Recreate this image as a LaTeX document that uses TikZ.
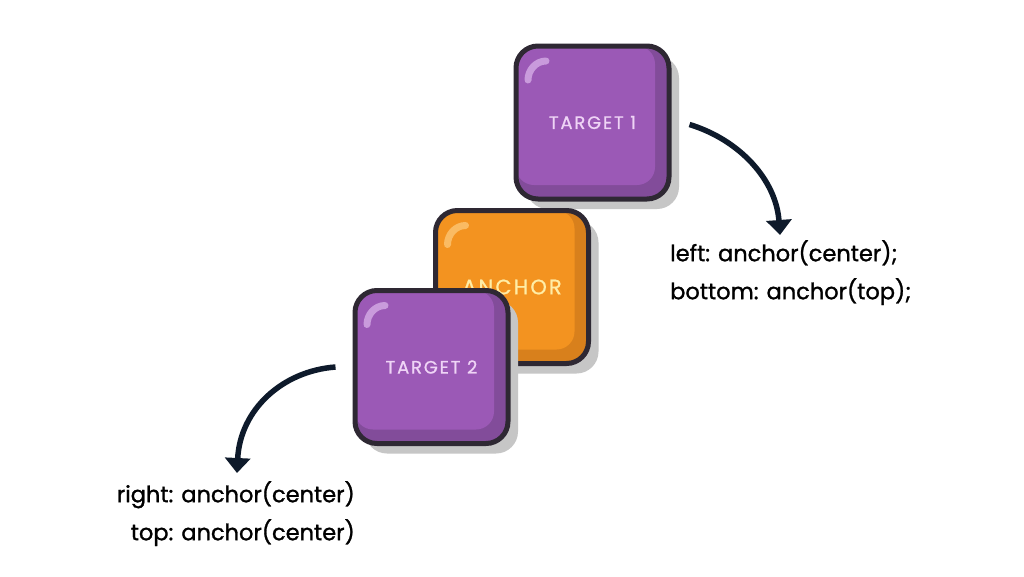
\documentclass[tikz,border=0pt]{standalone}
\usepackage{fontspec}
\setmainfont{Poppins}
\newfontfamily\codefont{Poppins}[FakeBold=1.2]
\newfontfamily\tilefont{Poppins}[LetterSpace=10,FakeBold=0.8]
\usepackage{tikz}
\usetikzlibrary{arrows.meta,shadows}
\definecolor{tileEdge}{HTML}{2E2833}
\definecolor{tileShade}{HTML}{C6C6C6}
\definecolor{plumMain}{HTML}{9B59B6}
\definecolor{plumDark}{HTML}{824C9A}
\definecolor{plumShine}{HTML}{C99BDC}
\definecolor{plumText}{HTML}{EFD4F6}
\definecolor{amberMain}{HTML}{F39320}
\definecolor{amberDark}{HTML}{D8801C}
\definecolor{amberShine}{HTML}{FABB63}
\definecolor{amberText}{HTML}{FFEDA6}
\definecolor{inkNavy}{HTML}{0E1A2B}

\begin{document}
\begin{tikzpicture}[x=1pt,y=-1pt,
  tile/.style={draw=tileEdge,line width=5pt,rounded corners=22pt,minimum size=153pt,inner sep=0pt,
    drop shadow={shadow xshift=10pt,shadow yshift=-10pt,fill=tileShade,opacity=1}},
  tilefill/.style n args={3}{fill=#2,path picture={
    \fill[#1,rounded corners=18pt] (path picture bounding box.north west) rectangle ([xshift=-14pt,yshift=14pt]path picture bounding box.south east);
    \draw[#3,line width=7pt,line cap=round] ([xshift=12pt,yshift=-34pt]path picture bounding box.north west)
      .. controls ([xshift=12pt,yshift=-24pt]path picture bounding box.north west) and ([xshift=20pt,yshift=-15pt]path picture bounding box.north west)
      .. ([xshift=30pt,yshift=-15pt]path picture bounding box.north west);}},
  conn/.style={-{Triangle[width=25pt,length=15pt]},line width=5.5pt,inkNavy},
  code/.style={font=\codefont\fontsize{22.5}{38}\selectfont,inner sep=0pt}]
  \useasboundingbox[fill=white] (0,0) rectangle (1024,576);
  \node[tile,tilefill={plumMain}{plumDark}{plumShine},text=plumText,font=\tilefont\fontsize{18}{20}\selectfont] (t1) at (592.5,122.5) {TARGET 1};
  \node[tile,tilefill={amberMain}{amberDark}{amberShine},text=amberText,font=\tilefont\fontsize{21}{26}\selectfont] (anc) at (512,287) {ANCHOR};
  \node[tile,tilefill={plumMain}{plumDark}{plumShine},text=plumText,font=\tilefont\fontsize{18}{20}\selectfont] (t2) at (431.5,367) {TARGET 2};
  \node[code,anchor=north west,align=left] (codeA) at (670,240) {left: anchor(center);\\bottom: anchor(top);};
  \node[code,anchor=north east,align=right] (codeB) at (355,481) {right: anchor(center)\\top: anchor(center)};
  \coordinate (tipA) at (780,235);
  \coordinate (tipB) at (237,473);
  \draw[conn] ([xshift=18pt,yshift=-2pt]t1.east) .. controls (740,140) and (776,180) .. (tipA);
  \draw[conn] ([xshift=-17pt]t2.west) .. controls (282,371) and (240,410) .. (tipB);
\end{tikzpicture}
\end{document}
